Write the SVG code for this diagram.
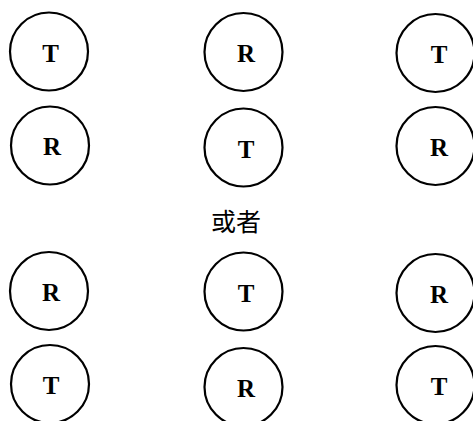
<svg xmlns="http://www.w3.org/2000/svg" width="473" height="421" viewBox="0 0 473 421">
<style>
.c{fill:#fff;stroke:#000;stroke-width:2.2}
.l{font-family:"Liberation Serif","Times New Roman",serif;font-weight:bold;font-size:25px;text-anchor:middle;fill:#000}
.h{font-family:"Noto Sans CJK SC","Noto Sans CJK JP",sans-serif;font-size:25px;text-anchor:middle;fill:#000}
</style>
<rect width="473" height="421" fill="#fff"/>
<g id="n1"><circle class="c" cx="49" cy="51.5" r="39"/><text class="l" x="50.5" y="62">T</text></g>
<g id="n2"><circle class="c" cx="243.5" cy="52" r="39"/><text class="l" x="246" y="61.5">R</text></g>
<g id="n3"><circle class="c" cx="435.5" cy="53" r="39"/><text class="l" x="439" y="63">T</text></g>
<g id="n4"><circle class="c" cx="50" cy="145.5" r="39"/><text class="l" x="52" y="155">R</text></g>
<g id="n5"><circle class="c" cx="243.5" cy="147.5" r="39"/><text class="l" x="246" y="158">T</text></g>
<g id="n6"><circle class="c" cx="435.5" cy="146" r="39"/><text class="l" x="439" y="156">R</text></g>
<text id="or" class="h" x="236" y="231">或者</text>
<g id="n7"><circle class="c" cx="49" cy="291" r="39"/><text class="l" x="51" y="301">R</text></g>
<g id="n8"><circle class="c" cx="243.5" cy="291.5" r="39"/><text class="l" x="246" y="302">T</text></g>
<g id="n9"><circle class="c" cx="435.5" cy="293" r="39"/><text class="l" x="439" y="303">R</text></g>
<g id="n10"><circle class="c" cx="50" cy="384" r="39"/><text class="l" x="51" y="394">T</text></g>
<g id="n11"><circle class="c" cx="243.5" cy="387" r="39"/><text class="l" x="246" y="397">R</text></g>
<g id="n12"><circle class="c" cx="435.5" cy="385" r="39"/><text class="l" x="439" y="395">T</text></g>
<g id="connectors"></g>
</svg>
